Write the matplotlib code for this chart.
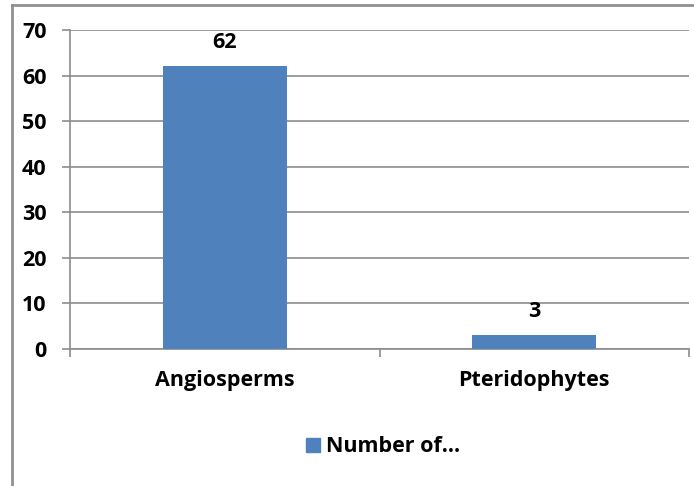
import matplotlib.pyplot as plt
from matplotlib.lines import Line2D
from matplotlib.patches import Rectangle

categories = ['Angiosperms', 'Pteridophytes']
counts = [62, 3]
series_name = 'Number of\u2026'
yticks = [0, 10, 20, 30, 40, 50, 60, 70]

BAR = '#4F81BD'
GRID = '#8c8c8c'
FS = 15.5

plt.rcParams['font.family'] = ['Open Sans', 'DejaVu Sans']
plt.rcParams['font.weight'] = 'bold'

fig = plt.figure(figsize=(6.94, 4.86), dpi=100)
ax = fig.add_axes([70 / 694, 1 - 349 / 486, 619 / 694, 319 / 486])

pos = [i + 0.5 for i in range(len(categories))]
bars = ax.bar(pos, counts, width=0.4, color=BAR, zorder=3)

for b, v in zip(bars, counts):
    ax.text(b.get_x() + b.get_width() / 2, v + 3.0, str(v),
            ha='center', va='bottom', fontsize=FS, fontweight='bold')

ax.set_xlim(0, len(categories))
ax.set_ylim(0, 70)
ax.set_yticks(yticks)
ax.set_yticklabels([str(t) for t in yticks], fontsize=FS, fontweight='bold')
ax.yaxis.grid(True, color=GRID, lw=1.2, zorder=0)

ax.set_xticks(range(len(categories) + 1))
ax.set_xticklabels([])
ax.set_xticks(pos, minor=True)
ax.set_xticklabels(categories, minor=True, fontsize=FS, fontweight='bold')
ax.tick_params(axis='x', which='major', length=6, color=GRID, width=1.2)
ax.tick_params(axis='x', which='minor', length=0, pad=15)
ax.tick_params(axis='y', length=6, color=GRID, width=1.2, pad=11)

for side in ['top', 'right']:
    ax.spines[side].set_visible(False)
for side in ['left', 'bottom']:
    ax.spines[side].set_color(GRID)
    ax.spines[side].set_linewidth(1.2)

# legend under the plot
fig.patches.append(Rectangle((306 / 694, 1 - 452 / 486), 14 / 694, 14 / 486,
                             transform=fig.transFigure, color=BAR))
fig.text(326 / 694, 1 - 446 / 486, series_name, ha='left', va='center',
         fontsize=FS, fontweight='bold')

# chart frame
fig.lines.append(Line2D([12 / 694, 1], [1 - 5 / 486, 1 - 5 / 486],
                        transform=fig.transFigure, color='#909090', lw=2))
fig.lines.append(Line2D([12 / 694, 12 / 694], [0, 1 - 5 / 486],
                        transform=fig.transFigure, color='#909090', lw=2))

fig.savefig('out.png', dpi=100)
